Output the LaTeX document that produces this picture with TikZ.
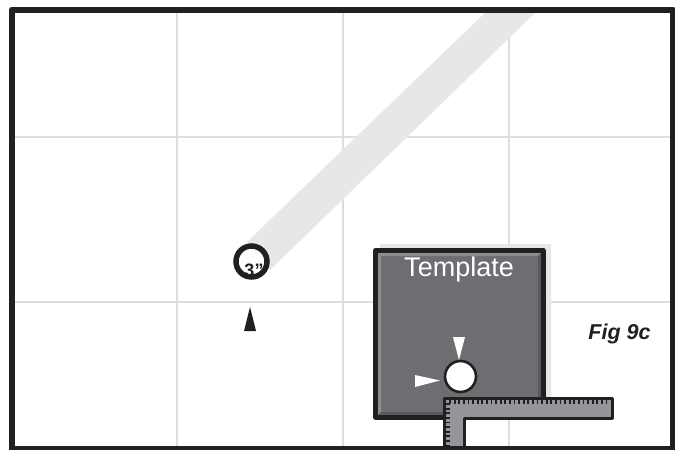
\documentclass[tikz,border=0pt]{standalone}
\usepackage{fontspec}
\setmainfont{Liberation Sans}
\usepackage{xcolor}
\definecolor{gridgray}{HTML}{DCDDDE}
\definecolor{bandgray}{HTML}{E6E7E8}
\definecolor{platedark}{HTML}{6D6E71}
\definecolor{platelight}{HTML}{8C8D90}
\definecolor{plateshade}{HTML}{58595B}
\definecolor{squaregray}{HTML}{939598}
\definecolor{inkblack}{HTML}{231F20}
\begin{document}
\begin{tikzpicture}[x=1pt, y=-1pt,
    gridline/.style={gridgray, line width=2pt},
    pointer/.style={fill=white, draw=none},
    tickmark/.style={inkblack, line width=1.8pt}]
\useasboundingbox (0,0) rectangle (675,450);
\fill[white] (0,0) rectangle (675,450);

% Grid
\foreach \x in {177,343,509} \draw[gridline] (\x,10) -- (\x,448);
\foreach \y in {137,302} \draw[gridline] (10,\y) -- (672,\y);

% Diagonal band
\fill[bandgray] (247,242) -- (488,10) -- (538,10) -- (270,270) -- cycle;

% Hole with its size
\fill[white] (251.5,261.5) circle (15);
\node[inner sep=0pt, font=\fontsize{18}{18}\selectfont\bfseries, inkblack] (holesize) at (254,270.5) {3”};
\draw[inkblack, line width=5.5pt] (251.5,261.5) circle (15.5);
\fill[inkblack] (250,307) -- (256,331) -- (244,331) -- cycle;

% Template plate
\fill[bandgray] (380,244) -- (551,244) -- (551,415) -- (540,415) -- (540,250) -- (380,250) -- cycle;
\fill[platedark] (375.5,250.5) rectangle (543,417);
\fill[platelight] (378,253) -- (541,253) -- (538,256) -- (381,256) -- cycle;
\fill[platelight] (378,253) -- (381,256) -- (381,412) -- (378,415) -- cycle;
\fill[plateshade] (378,415) -- (381,412) -- (538,412) -- (541,415) -- cycle;
\fill[plateshade] (541,253) -- (538,256) -- (538,412) -- (541,415) -- cycle;
\draw[inkblack, line width=5pt, line join=round] (375.5,250.5) rectangle (543,417);
\node[text=white, inner sep=0pt, font=\fontsize{27}{27}\selectfont] (template) at (459,270) {Template};

% Template hole and pointers
\draw[inkblack, fill=white, line width=2.6pt] (460.5,376.5) circle (15.5);
\fill[pointer] (459,360) -- (453,337) -- (465,337) -- cycle;
\fill[pointer] (440,380.5) -- (415,375) -- (415,387) -- cycle;

% Framing square
\draw[inkblack, fill=squaregray, line width=3pt, line join=round]
    (444.5,398.5) -- (612,398.5) -- (612,418.5) -- (464,418.5) -- (464,452) -- (444.5,452) -- cycle;
\foreach \x in {450,454.6,...,610} \draw[tickmark] (\x,399) -- (\x,403.5);
\foreach \y in {404,408.6,...,446} \draw[tickmark] (445,\y) -- (449.5,\y);

% Outer frame
\draw[inkblack, line width=6pt, line join=round] (11.5,9.5) -- (672.5,9.5) -- (672.5,449) -- (11.5,449) -- cycle;

\node[inkblack, inner sep=0pt, font=\fontsize{21.5}{21.5}\selectfont\bfseries\itshape] (figlabel) at (619.5,334) {Fig 9c};
\end{tikzpicture}
\end{document}
